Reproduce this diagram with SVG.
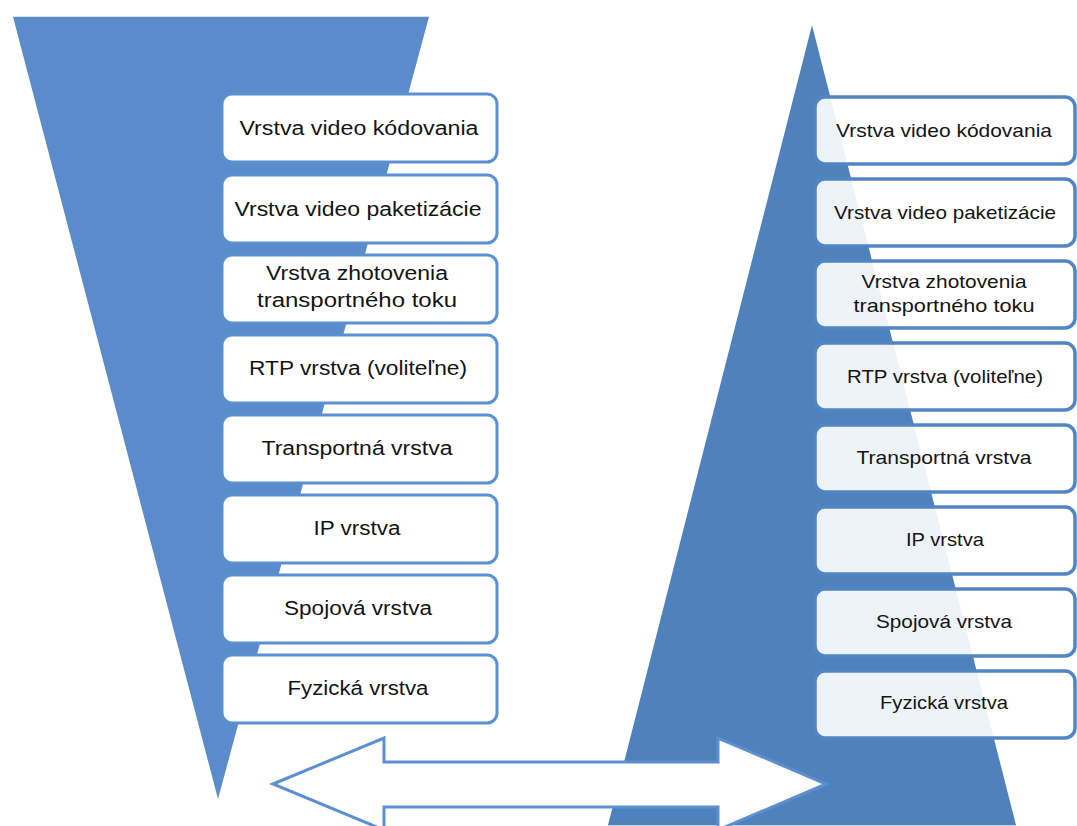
<svg xmlns="http://www.w3.org/2000/svg" width="1077" height="826" viewBox="0 0 1077 826">
<defs>
<style>
.tri-l{fill:#5a8bcb;stroke:#ffffff;stroke-width:1.5}
.tri-r{fill:#4f81bd;stroke:#ffffff;stroke-width:1.5}
.box-l{fill:#ffffff;stroke:#5b8fd0;stroke-width:3}
.box-r{fill:#ffffff;fill-opacity:0.9;stroke:#5185c4;stroke-width:3.5}
.tl{font-family:"Liberation Sans",Arial,sans-serif;font-size:20px;fill:#141414;text-anchor:middle}
.tr{font-family:"Liberation Sans",Arial,sans-serif;font-size:19px;fill:#141414;text-anchor:middle}
.arrow{fill:#ffffff;stroke:#5b8fd0;stroke-width:3;stroke-linejoin:miter}
</style>
</defs>
<rect width="1077" height="826" fill="#ffffff"/>
<g id="left-funnel"><polygon class="tri-l" points="12,16 430,16 218,802"/></g>
<g id="right-pyramid"><polygon class="tri-r" points="812,22 1017,826 607,826"/></g>

<g id="left-stack">
<g id="l1"><rect class="box-l" x="222" y="94" width="275" height="68" rx="10"/><text class="tl" x="359" y="135" textLength="239" lengthAdjust="spacingAndGlyphs">Vrstva video kódovania</text></g>
<g id="l2"><rect class="box-l" x="222" y="175" width="275" height="68" rx="10"/><text class="tl" x="358" y="216" textLength="247" lengthAdjust="spacingAndGlyphs">Vrstva video paketizácie</text></g>
<g id="l3"><rect class="box-l" x="222" y="255" width="275" height="68" rx="10"/><text class="tl" x="357" y="280" textLength="182" lengthAdjust="spacingAndGlyphs">Vrstva zhotovenia</text><text class="tl" x="357" y="307" textLength="200" lengthAdjust="spacingAndGlyphs">transportného toku</text></g>
<g id="l4"><rect class="box-l" x="222" y="335" width="275" height="68" rx="10"/><text class="tl" x="358" y="375" textLength="218" lengthAdjust="spacingAndGlyphs">RTP vrstva (voliteľne)</text></g>
<g id="l5"><rect class="box-l" x="222" y="415" width="275" height="68" rx="10"/><text class="tl" x="357" y="455" textLength="191" lengthAdjust="spacingAndGlyphs">Transportná vrstva</text></g>
<g id="l6"><rect class="box-l" x="222" y="495" width="275" height="68" rx="10"/><text class="tl" x="357" y="535" textLength="87" lengthAdjust="spacingAndGlyphs">IP vrstva</text></g>
<g id="l7"><rect class="box-l" x="222" y="575" width="275" height="68" rx="10"/><text class="tl" x="358" y="615" textLength="148" lengthAdjust="spacingAndGlyphs">Spojová vrstva</text></g>
<g id="l8"><rect class="box-l" x="222" y="655" width="275" height="68" rx="10"/><text class="tl" x="358" y="695" textLength="141" lengthAdjust="spacingAndGlyphs">Fyzická vrstva</text></g>
</g>

<g id="right-stack">
<g id="r1"><rect class="box-r" x="815" y="97" width="260" height="67" rx="10"/><text class="tr" x="944" y="137" textLength="216" lengthAdjust="spacingAndGlyphs">Vrstva video kódovania</text></g>
<g id="r2"><rect class="box-r" x="815" y="179" width="260" height="67" rx="10"/><text class="tr" x="945" y="219" textLength="222" lengthAdjust="spacingAndGlyphs">Vrstva video paketizácie</text></g>
<g id="r3"><rect class="box-r" x="815" y="261" width="260" height="67" rx="10"/><text class="tr" x="944" y="288" textLength="165" lengthAdjust="spacingAndGlyphs">Vrstva zhotovenia</text><text class="tr" x="944" y="312" textLength="181" lengthAdjust="spacingAndGlyphs">transportného toku</text></g>
<g id="r4"><rect class="box-r" x="815" y="343" width="260" height="67" rx="10"/><text class="tr" x="945" y="383" textLength="196" lengthAdjust="spacingAndGlyphs">RTP vrstva (voliteľne)</text></g>
<g id="r5"><rect class="box-r" x="815" y="425" width="260" height="67" rx="10"/><text class="tr" x="944" y="464" textLength="175" lengthAdjust="spacingAndGlyphs">Transportná vrstva</text></g>
<g id="r6"><rect class="box-r" x="815" y="507" width="260" height="67" rx="10"/><text class="tr" x="945" y="546" textLength="78" lengthAdjust="spacingAndGlyphs">IP vrstva</text></g>
<g id="r7"><rect class="box-r" x="815" y="589" width="260" height="67" rx="10"/><text class="tr" x="944" y="628" textLength="136" lengthAdjust="spacingAndGlyphs">Spojová vrstva</text></g>
<g id="r8"><rect class="box-r" x="815" y="671" width="260" height="67" rx="10"/><text class="tr" x="944" y="709" textLength="128" lengthAdjust="spacingAndGlyphs">Fyzická vrstva</text></g>
</g>

<g id="connectors">
<polygon class="arrow" points="273,784 384,738 384,762 718,762 718,738 826,784 718,830 718,807 384,807 384,830"/>
</g>
</svg>
